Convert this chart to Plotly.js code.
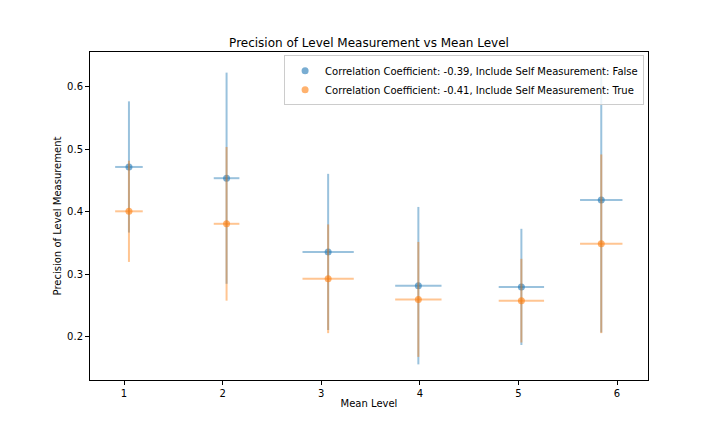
<!DOCTYPE html>
<html>
<head>
<meta charset="utf-8">
<script src="https://cdn.plot.ly/plotly-3.0.1.min.js"></script>
<style>
  html, body { margin: 0; padding: 0; background: #fff; }
  #plot { width: 720px; height: 432px; }
</style>
</head>
<body>
<div id="plot"></div>
<script>
// mean level per group (same x for both series)
const meanLevel = [1.05, 2.04, 3.07, 3.985, 5.03, 5.84];
const meanLevelErr = [0.14, 0.13, 0.26, 0.235, 0.23, 0.215];

// include self measurement: False
const precisionNoSelf = [0.472, 0.454, 0.336, 0.282, 0.280, 0.419];
const precisionNoSelfErr = [0.105, 0.169, 0.125, 0.126, 0.093, 0.212];

// include self measurement: True
const precisionSelf = [0.401, 0.381, 0.293, 0.260, 0.258, 0.349];
const precisionSelfErr = [0.081, 0.123, 0.087, 0.092, 0.067, 0.143];

const seriesNames = [
  "Correlation Coefficient: -0.39, Include Self Measurement: False",
  "Correlation Coefficient: -0.41, Include Self Measurement: True"
];

function errTrace(name, y, yerr, rgb) {
  return {
    x: meanLevel,
    y: y,
    name: name,
    type: "scatter",
    mode: "markers",
    marker: { color: `rgba(${rgb},0.6)`, size: 7 },
    error_x: { type: "data", array: meanLevelErr, visible: true,
               color: `rgba(${rgb},0.45)`, thickness: 2, width: 0 },
    error_y: { type: "data", array: yerr, visible: true,
               color: `rgba(${rgb},0.45)`, thickness: 2, width: 0 }
  };
}

const traces = [
  errTrace(seriesNames[0], precisionNoSelf, precisionNoSelfErr, "31,119,180"),
  errTrace(seriesNames[1], precisionSelf, precisionSelfErr, "255,127,14")
];

const axisStyle = {
  showgrid: false,
  zeroline: false,
  showline: true,
  mirror: true,
  linecolor: "#000",
  linewidth: 1,
  ticks: "outside",
  ticklen: 4,
  tickcolor: "#000",
  tickfont: { size: 10, color: "#000" }
};

const layout = {
  width: 720,
  height: 432,
  font: { family: "DejaVu Sans, sans-serif", color: "#000" },
  paper_bgcolor: "#fff",
  plot_bgcolor: "#fff",
  margin: { l: 90, r: 72, t: 52, b: 52 },
  title: { text: "Precision of Level Measurement vs Mean Level",
           font: { size: 12 }, xref: "paper", x: 0.5, xanchor: "center",
           y: 0.9, yanchor: "middle" },
  xaxis: Object.assign({}, axisStyle, {
    range: [0.655, 6.314],
    tickvals: [1, 2, 3, 4, 5, 6],
    title: { text: "Mean Level", font: { size: 10 }, standoff: 1 }
  }),
  yaxis: Object.assign({}, axisStyle, {
    range: [0.131, 0.656],
    tickvals: [0.2, 0.3, 0.4, 0.5, 0.6],
    tickformat: ".1f",
    title: { text: "Precision of Level Measurement", font: { size: 10 }, standoff: 3 }
  }),
  showlegend: true,
  legend: {
    x: 0.993, y: 0.99, xanchor: "right", yanchor: "top",
    bgcolor: "rgba(255,255,255,0.8)",
    bordercolor: "#ccc",
    borderwidth: 1,
    font: { size: 10 },
    tracegroupgap: 0
  }
};

Plotly.newPlot("plot", traces, layout, { staticPlot: true });
</script>
</body>
</html>
